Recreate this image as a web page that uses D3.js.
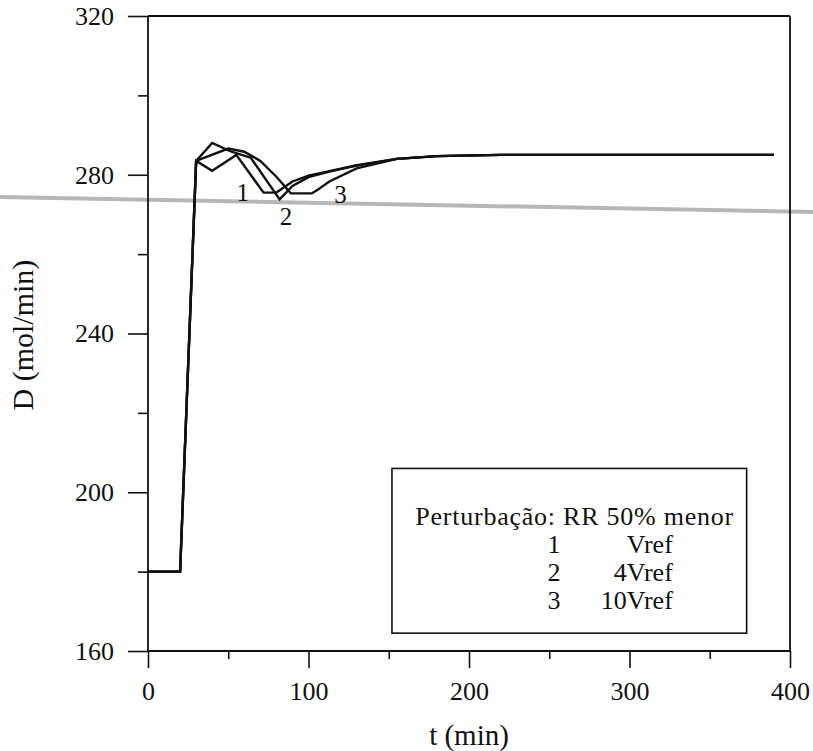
<!DOCTYPE html>
<html>
<head>
<meta charset="utf-8">
<script src="https://cdn.jsdelivr.net/npm/d3@7"></script>
<style>
  html, body { margin: 0; padding: 0; background: #fff; }
  svg { display: block; }
  text { font-family: "Liberation Serif", "Times New Roman", Times, serif; fill: #111; }
</style>
</head>
<body>
<svg id="chart" width="813" height="751"></svg>
<script>
// ---- data ----
const xMajorTicks = [0, 100, 200, 300, 400];
const xMinorTicks = [50, 150, 250, 350];
const yMajorTicks = [160, 200, 240, 280, 320];
const yMinorTicks = [180, 220, 260, 300];

// common start (step disturbance)
const startT = [0, 20, 30];
const startD = [180, 180, 283.5];

// curve 1 : Vref
const s1T = [40, 55, 72, 80, 90, 100, 113, 130, 155, 180, 220, 390];
const s1D = [281, 285, 275.5, 275.5, 278.3, 279.8, 280.9, 282.4, 284.0, 284.7, 285.0, 285.0];
// curve 2 : 4Vref
const s2T = [40, 52, 64, 82, 90, 100, 113, 130, 155, 180, 220, 390];
const s2D = [288, 285.8, 284.3, 273.8, 277.2, 279.4, 280.8, 282.3, 284.0, 284.7, 285.0, 285.0];
// curve 3 : 10Vref
const s3T = [50, 60, 70, 80, 89, 102, 106, 113, 130, 155, 180, 220, 390];
const s3D = [286.6, 285.8, 283.5, 279.5, 275.3, 275.3, 276.3, 278.3, 281.6, 284.0, 284.7, 285.0, 285.0];

const seriesNames = ["1", "2", "3"];
const legendTitle = "Perturbação: RR 50% menor";
const legendNums = ["1", "2", "3"];
const legendLabels = ["Vref", "4Vref", "10Vref"];
const xTitle = "t (min)";
const yTitle = "D (mol/min)";

// ---- drawing ----
const svg = d3.select("#chart");
const x = d3.scaleLinear().domain([0, 400]).range([148, 790]);
const y = d3.scaleLinear().domain([160, 320]).range([651, 16]);
const serif = '"Liberation Serif", "Times New Roman", Times, serif';

// scan artifact band (grey line across the page)
svg.append("line")
  .attr("x1", 0).attr("y1", 197).attr("x2", 813).attr("y2", 212)
  .attr("stroke", "#a0a0a0").attr("stroke-width", 4).attr("opacity", 0.75);

const ink = "#111";

// frame: top and right
svg.append("line").attr("x1", x(0)).attr("x2", x(400)).attr("y1", y(320)).attr("y2", y(320))
  .attr("stroke", ink).attr("stroke-width", 1.8);
svg.append("line").attr("x1", x(400)).attr("x2", x(400)).attr("y1", y(320)).attr("y2", y(160))
  .attr("stroke", ink).attr("stroke-width", 1.8);

// y axis
const yAxis = svg.append("g").attr("transform", `translate(${x(0)},0)`)
  .call(d3.axisLeft(y).tickValues(yMajorTicks).tickSize(20).tickPadding(14).tickFormat(d3.format("d")));
const yMinor = svg.append("g").attr("transform", `translate(${x(0)},0)`)
  .call(d3.axisLeft(y).tickValues(yMinorTicks).tickSize(10).tickFormat(""));
// x axis
const xAxis = svg.append("g").attr("transform", `translate(0,${y(160)})`)
  .call(d3.axisBottom(x).tickValues(xMajorTicks).tickSize(17).tickPadding(14).tickFormat(d3.format("d")));
const xMinor = svg.append("g").attr("transform", `translate(0,${y(160)})`)
  .call(d3.axisBottom(x).tickValues(xMinorTicks).tickSize(8).tickFormat(""));

[yAxis, yMinor, xAxis, xMinor].forEach(g => {
  g.attr("font-family", serif);
  g.select(".domain").attr("stroke", ink).attr("stroke-width", 1.8);
  g.selectAll(".tick line").attr("stroke", ink).attr("stroke-width", 1.6);
  g.selectAll(".tick text").attr("fill", ink)
    .style("font-family", serif)
    .style("font-size", "26px");
});
yAxis.select(".domain").attr("d", `M0,${y(320)}V${y(160)}`);
yMinor.select(".domain").remove();
xAxis.select(".domain").attr("d", `M${x(0)},0H${x(400)}`);
xMinor.select(".domain").remove();

// axis titles
svg.append("text").attr("x", x(200)).attr("y", 745).attr("text-anchor", "middle")
  .style("font-size", "29px").text(xTitle);
svg.append("text").attr("transform", `translate(33,${y(239.6)}) rotate(-90)`).attr("text-anchor", "middle")
  .style("font-size", "30px").text(yTitle);

// curves
const line = d3.line().x(d => x(d[0])).y(d => y(d[1]));
const series = [[s1T, s1D], [s2T, s2D], [s3T, s3D]].map(([T, D]) =>
  startT.map((t, i) => [t, startD[i]]).concat(T.map((t, i) => [t, D[i]])));
svg.append("g").selectAll("path").data(series).join("path")
  .attr("d", line).attr("fill", "none").attr("stroke", ink)
  .attr("stroke-width", 2.4).attr("stroke-linejoin", "miter");

// curve labels
const curveLabelPos = [[59, 273.5], [86, 267.3], [120, 273.0]];
svg.append("g").selectAll("text").data(seriesNames).join("text")
  .attr("x", (d, i) => x(curveLabelPos[i][0]))
  .attr("y", (d, i) => y(curveLabelPos[i][1]))
  .attr("text-anchor", "middle")
  .style("font-size", "25px").text(d => d);

// legend box
const legTop = y(206), legBottom = y(164.5);
svg.append("rect").attr("x", x(152)).attr("y", legTop).attr("width", x(373) - x(152)).attr("height", legBottom - legTop)
  .attr("fill", "#fff").attr("stroke", ink).attr("stroke-width", 1.6);
const legBase = legTop + 57;
svg.append("text").attr("x", x(166.5)).attr("y", legBase).attr("textLength", 318).attr("lengthAdjust", "spacing")
  .style("font-size", "26px").text(legendTitle);
legendNums.forEach((n, i) => {
  svg.append("text").attr("x", x(253)).attr("y", legBase + 28 * (i + 1)).attr("text-anchor", "middle")
    .style("font-size", "26px").text(n);
  svg.append("text").attr("x", x(327)).attr("y", legBase + 28 * (i + 1)).attr("text-anchor", "end")
    .style("font-size", "26px").text(legendLabels[i]);
});
</script>
</body>
</html>
